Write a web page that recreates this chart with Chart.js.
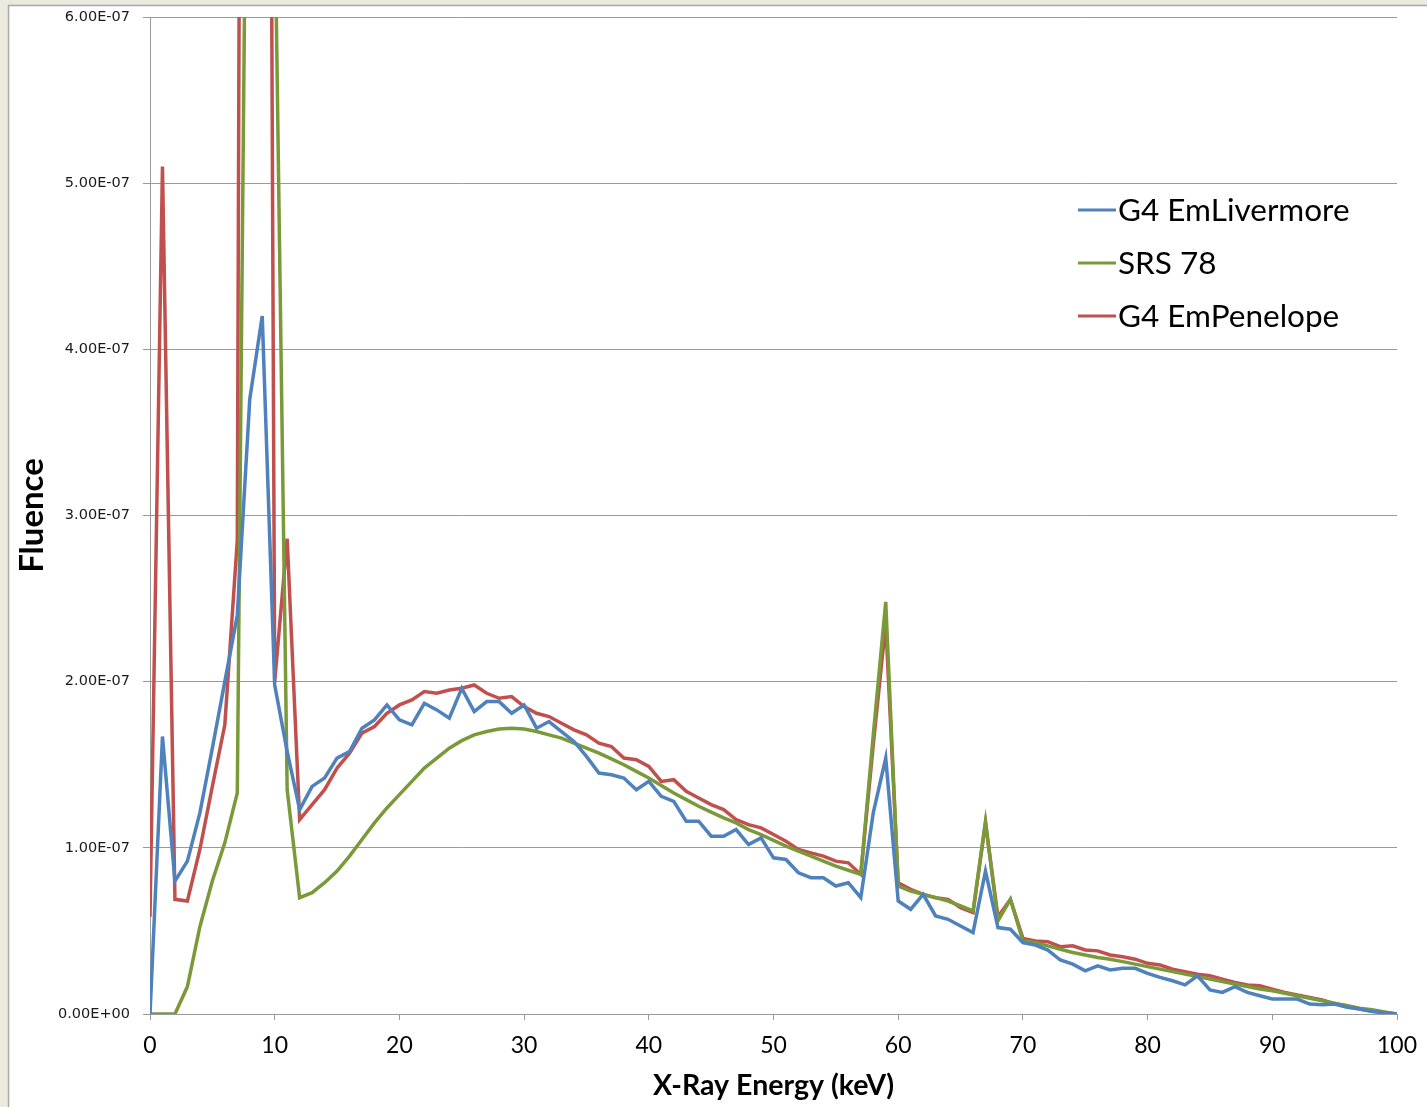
<!DOCTYPE html>
<html>
<head>
<meta charset="utf-8">
<script src="https://cdn.jsdelivr.net/npm/chart.js@4.4.1/dist/chart.umd.min.js"></script>
<style>
  html, body { margin: 0; padding: 0; background: #ECE9DE; }
  #wrap { width: 1427px; height: 1107px; position: relative; }
  canvas { display: block; }
</style>
</head>
<body>
<div id="wrap"><canvas id="c"></canvas></div>
<script>
// X-ray energy (keV)
const energies = [0,1,2,3,4,5,6,7,8,9,10,11,12,13,14,15,16,17,18,19,20,21,22,23,24,25,26,27,28,29,30,
  31,32,33,34,35,36,37,38,39,40,41,42,43,44,45,46,47,48,49,50,51,52,53,54,55,56,57,58,59,60,
  61,62,63,64,65,66,67,68,69,70,71,72,73,74,75,76,77,78,79,80,81,82,83,84,85,86,87,88,89,90,
  91,92,93,94,95,96,97,98,99,100];

// Fluence values, in units of 1e-7
const UNIT = 1e-7;
const livermore = [0,1.67,0.80,0.92,1.21,1.60,2.00,2.40,3.70,4.20,1.98,1.58,1.23,1.37,1.42,1.54,1.58,1.72,1.77,1.86,1.77,
  1.74,1.87,1.83,1.78,1.96,1.82,1.88,1.88,1.81,1.86,
  1.72,1.76,1.70,1.64,1.55,1.45,1.44,1.42,1.35,1.40,
  1.31,1.28,1.16,1.16,1.07,1.07,1.11,1.02,1.06,0.94,
  0.93,0.85,0.82,0.82,0.77,0.79,0.70,1.21,1.54,0.68,
  0.63,0.72,0.59,0.57,0.53,0.49,0.86,0.52,0.51,0.43,
  0.415,0.385,0.325,0.30,0.26,0.29,0.265,0.275,0.275,0.245,
  0.22,0.20,0.175,0.23,0.145,0.13,0.165,0.13,0.11,0.09,
  0.09,0.09,0.06,0.055,0.06,0.04,0.03,0.015,0.008,0];
const srs78 = [0,0,0,0.165,0.525,0.80,1.03,1.33,9.5,9.0,6.7,1.35,0.70,0.73,0.79,0.86,0.95,1.05,1.15,1.24,1.32,
  1.40,1.48,1.54,1.60,1.645,1.68,1.70,1.715,1.72,1.715,
  1.70,1.68,1.66,1.63,1.60,1.57,1.535,1.50,1.46,1.42,
  1.375,1.33,1.29,1.25,1.215,1.18,1.15,1.11,1.08,1.045,
  1.01,0.98,0.95,0.92,0.89,0.865,0.84,1.68,2.48,0.77,
  0.74,0.72,0.70,0.68,0.65,0.62,1.16,0.56,0.69,0.44,
  0.43,0.41,0.39,0.37,0.355,0.34,0.33,0.315,0.30,0.285,
  0.27,0.255,0.24,0.225,0.21,0.195,0.18,0.165,0.15,0.14,
  0.125,0.11,0.095,0.08,0.065,0.05,0.035,0.025,0.012,0];
const penelope = [0.585,5.10,0.69,0.68,0.99,1.37,1.74,2.85,25,19,2.00,2.86,1.17,1.26,1.35,1.48,1.57,1.69,1.73,1.81,1.86,
  1.89,1.94,1.93,1.95,1.96,1.98,1.93,1.90,1.91,1.85,
  1.81,1.79,1.75,1.71,1.68,1.63,1.61,1.54,1.53,1.49,
  1.40,1.41,1.34,1.30,1.26,1.23,1.17,1.14,1.12,1.08,
  1.04,0.99,0.97,0.95,0.92,0.91,0.84,1.62,2.35,0.79,
  0.75,0.72,0.70,0.69,0.64,0.61,1.15,0.585,0.69,0.455,
  0.44,0.435,0.405,0.41,0.385,0.38,0.355,0.345,0.33,0.305,
  0.295,0.27,0.255,0.24,0.23,0.21,0.19,0.175,0.17,0.15,
  0.13,0.115,0.10,0.085,0.06,0.05,0.03,0.018,0.008,0];

const seriesNames = ['G4 EmLivermore', 'SRS 78', 'G4 EmPenelope'];
const seriesColors = ['#4F81BD', '#7A9A3A', '#C0504D'];
const xTitle = 'X-Ray Energy (keV)';
const yTitle = 'Fluence';

function pts(arr) { return arr.map((v, i) => ({ x: energies[i], y: v * UNIT })); }

function fmtExp(v) {
  if (Math.abs(v) < 1e-20) return '0.00E+00';
  let e = Math.floor(Math.log10(Math.abs(v)) + 1e-9);
  let m = v / Math.pow(10, e);
  if (Math.abs(m) >= 9.995) { m /= 10; e += 1; }
  const sign = e < 0 ? '-' : '+';
  const ae = Math.abs(e);
  return m.toFixed(2) + 'E' + sign + (ae < 10 ? '0' : '') + ae;
}

const panelPlugin = {
  id: 'panel',
  beforeDraw(chart) {
    const ctx = chart.ctx;
    ctx.save();
    ctx.fillStyle = '#ECE9DE';
    ctx.fillRect(0, 0, chart.width, chart.height);
    ctx.fillStyle = '#FFFFFF';
    ctx.fillRect(8, 5, chart.width - 8, chart.height - 5);
    ctx.strokeStyle = '#A8A8A8';
    ctx.lineWidth = 1.5;
    ctx.beginPath();
    ctx.moveTo(8.5, chart.height);
    ctx.lineTo(8.5, 5.5);
    ctx.lineTo(chart.width, 5.5);
    ctx.stroke();
    ctx.restore();
  }
};

const legendPlugin = {
  id: 'customLegend',
  afterDraw(chart) {
    const ctx = chart.ctx;
    ctx.save();
    const x0 = 1078, x1 = 1116, y0 = 210, dy = 53;
    chart.data.datasets.forEach((ds, i) => {
      const y = y0 + dy * i;
      ctx.strokeStyle = ds.borderColor;
      ctx.lineWidth = 3;
      ctx.beginPath();
      ctx.moveTo(x0, y);
      ctx.lineTo(x1, y);
      ctx.stroke();
      ctx.fillStyle = '#000000';
      ctx.font = '31.5px Lato';
      ctx.textBaseline = 'middle';
      ctx.textAlign = 'left';
      ctx.fillText(ds.label, x1 + 2, y + 1);
    });
    ctx.restore();
  }
};

new Chart(document.getElementById('c'), {
  type: 'line',
  data: {
    datasets: [
      { label: seriesNames[0], data: pts(livermore), borderColor: seriesColors[0] },
      { label: seriesNames[1], data: pts(srs78), borderColor: seriesColors[1] },
      { label: seriesNames[2], data: pts(penelope), borderColor: seriesColors[2] }
    ]
  },
  options: {
    responsive: true,
    maintainAspectRatio: false,
    animation: false,
    layout: { padding: { left: 0, top: 17, right: 30, bottom: 0 } },
    elements: {
      line: { borderWidth: 3.5, tension: 0, borderJoinStyle: 'miter' },
      point: { radius: 0, hoverRadius: 0 }
    },
    plugins: {
      legend: { display: false },
      tooltip: { enabled: false }
    },
    scales: {
      x: {
        type: 'linear',
        min: 0, max: 100,
        afterFit(scale) { scale.height = 93; scale.paddingLeft = 0; scale.paddingRight = 0; },
        ticks: { stepSize: 10, color: '#000', font: { family: 'Lato', size: 23 }, padding: 12, maxRotation: 0 },
        grid: { drawOnChartArea: false, drawTicks: true, tickLength: 6, color: '#9A9A9A', lineWidth: 1 },
        border: { display: true, color: '#9A9A9A', width: 1 },
        title: { display: true, text: xTitle, color: '#000', font: { family: 'Lato', size: 28.5, weight: 'bold' }, padding: { top: 0, bottom: 4 } }
      },
      y: {
        min: 0, max: 6 * UNIT,
        afterFit(scale) { scale.width = 150; scale.paddingTop = 0; scale.paddingBottom = 0; },
        ticks: {
          stepSize: UNIT, color: '#1a1a1a', font: { family: 'DejaVu Sans', size: 14.5 }, padding: 13,
          callback: (v) => fmtExp(v)
        },
        grid: { color: '#9A9A9A', lineWidth: 1, tickLength: 7 },
        border: { display: true, color: '#9A9A9A', width: 1 },
        title: { display: true, text: yTitle, color: '#000', font: { family: 'Lato', size: 33, weight: 'bold' }, padding: { top: 13, bottom: 0 } }
      }
    }
  },
  plugins: [panelPlugin, legendPlugin]
});
</script>
</body>
</html>
